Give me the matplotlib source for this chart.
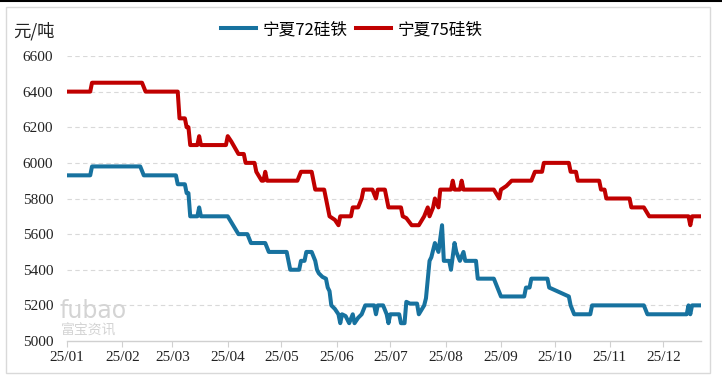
import numpy as np
import pandas as pd
import matplotlib
matplotlib.use("Agg")
import matplotlib.pyplot as plt
import matplotlib.dates as mdates
from matplotlib.patches import Rectangle
from matplotlib.lines import Line2D

plt.rcParams['font.family'] = ['Noto Sans CJK SC', 'DejaVu Sans']

# 宁夏75硅铁 (元/吨), turning points
dates75 = ["01-02", "01-14", "01-15", "02-12", "02-14", "03-04", "03-05", "03-08", "03-09",
           "03-10", "03-11", "03-15", "03-16", "03-17", "03-31", "04-01", "04-03", "04-07",
           "04-10", "04-11", "04-16", "04-17", "04-20", "04-21", "04-22", "04-23", "05-10",
           "05-12", "05-18", "05-19", "05-20", "05-25", "05-28", "05-31", "06-02", "06-03",
           "06-09", "06-10", "06-13", "06-15", "06-16", "06-21", "06-23", "06-24", "06-28",
           "06-29", "06-30", "07-07", "07-08", "07-10", "07-13", "07-17", "07-20", "07-22",
           "07-23", "07-25", "07-26", "07-28", "07-29", "08-04", "08-05", "08-06", "08-09",
           "08-10", "08-11", "08-28", "08-31", "09-01", "09-04", "09-07", "09-18", "09-20",
           "09-24", "09-25", "10-09", "10-10", "10-13", "10-14", "10-26", "10-27", "10-29",
           "10-30", "11-12", "11-13", "11-20", "11-23", "12-15", "12-16", "12-17", "12-22"]
vals75 = [6400, 6400, 6450, 6450, 6400, 6400, 6250, 6250, 6200,
          6200, 6100, 6100, 6150, 6100, 6100, 6150, 6120, 6050,
          6050, 6000, 6000, 5950, 5900, 5900, 5950, 5900, 5900,
          5950, 5950, 5900, 5850, 5850, 5700, 5680, 5650, 5700,
          5700, 5750, 5750, 5800, 5850, 5850, 5800, 5850, 5850,
          5800, 5750, 5750, 5700, 5690, 5650, 5650, 5700, 5750,
          5700, 5750, 5800, 5750, 5850, 5850, 5900, 5850, 5850,
          5900, 5850, 5850, 5800, 5850, 5870, 5900, 5900, 5950,
          5950, 6000, 6000, 5950, 5950, 5900, 5900, 5850, 5850,
          5800, 5800, 5750, 5750, 5700, 5700, 5650, 5700, 5700]

# 宁夏72硅铁 (元/吨)
dates72 = ["01-02", "01-14", "01-15", "02-11", "02-13", "03-03", "03-04", "03-08", "03-09",
           "03-10", "03-11", "03-15", "03-16", "03-17", "04-01", "04-04", "04-07", "04-12",
           "04-14", "04-22", "04-24", "05-04", "05-06", "05-11", "05-12", "05-14", "05-15",
           "05-18", "05-20", "05-21", "05-22", "05-24", "05-26", "05-27", "05-28", "05-29",
           "05-31", "06-02", "06-03", "06-04", "06-06", "06-08", "06-10", "06-11", "06-13",
           "06-15", "06-17", "06-22", "06-23", "06-24", "06-27", "06-29", "06-30", "07-01",
           "07-06", "07-07", "07-09", "07-10", "07-12", "07-16", "07-17", "07-20", "07-21",
           "07-23", "07-24", "07-26", "07-28", "07-30", "07-31", "08-03", "08-04", "08-06",
           "08-07", "08-09", "08-11", "08-12", "08-18", "08-19", "08-28", "08-30", "09-01",
           "09-14", "09-15", "09-17", "09-18", "09-27", "09-28", "10-09", "10-10", "10-12",
           "10-21", "10-22", "11-20", "11-22", "12-14", "12-15", "12-16", "12-17", "12-22"]
vals72 = [5930, 5930, 5980, 5980, 5930, 5930, 5880, 5880, 5830,
          5830, 5700, 5700, 5750, 5700, 5700, 5650, 5600, 5600,
          5550, 5550, 5500, 5500, 5400, 5400, 5450, 5450, 5500,
          5500, 5450, 5400, 5380, 5360, 5350, 5300, 5280, 5200,
          5180, 5150, 5100, 5150, 5140, 5100, 5150, 5100, 5130,
          5150, 5200, 5200, 5150, 5200, 5200, 5150, 5100, 5150,
          5150, 5100, 5100, 5220, 5210, 5210, 5150, 5200, 5240,
          5450, 5470, 5550, 5500, 5650, 5450, 5450, 5400, 5550,
          5500, 5450, 5500, 5450, 5450, 5350, 5350, 5300, 5250,
          5250, 5300, 5300, 5350, 5350, 5300, 5250, 5200, 5150,
          5150, 5200, 5200, 5150, 5150, 5200, 5150, 5200, 5200]

x75 = pd.to_datetime(["2025-" + d for d in dates75])
x72 = pd.to_datetime(["2025-" + d for d in dates72])

fig = plt.figure(figsize=(7.22, 3.80), dpi=100)
ax = fig.add_axes([67/722, 39/380, 634/722, 285/380])

ax.plot(x72, vals72, color='#17729F', lw=2.9, label='宁夏72硅铁', solid_joinstyle='round')
ax.plot(x75, vals75, color='#C00000', lw=2.9, label='宁夏75硅铁', solid_joinstyle='round')

ax.set_ylim(5000, 6600)
ax.set_yticks(np.arange(5000, 6601, 200))
ax.set_xlim(pd.Timestamp("2025-01-01"), pd.Timestamp("2025-12-22"))
ax.xaxis.set_major_locator(mdates.MonthLocator())
ax.xaxis.set_major_formatter(mdates.DateFormatter('%y/%m'))

for v in range(5200, 6601, 200):
    ax.axhline(v, color='#D9D9D9', lw=0.8, ls=(0, (4, 3)), zorder=0)

for s in ['top', 'right', 'left']:
    ax.spines[s].set_visible(False)
ax.spines['bottom'].set_color('#D0D0D0')
ax.spines['bottom'].set_linewidth(1)
ax.tick_params(axis='y', length=0, pad=10)
ax.tick_params(axis='x', length=4, color='#D0D0D0', pad=3)
for lab in ax.get_xticklabels() + ax.get_yticklabels():
    lab.set_fontfamily('Liberation Serif')
    lab.set_fontsize(11)
    lab.set_color('#222222')

fig.text(13/722, 1 - 31/380, '元/吨', fontsize=12.5, va='center', ha='left', color='#222222')

fig.legend(loc='upper center', bbox_to_anchor=(352/722, 1 - 6/380), ncol=2, frameon=False,
           fontsize=12, handlelength=2.1, columnspacing=0.5, handletextpad=0.4)

# fubao watermark
fig.text(60/722, 1 - 311/380, 'fubao', fontsize=17, color='#D4D4D4', va='center', ha='left',
         family='DejaVu Sans')
fig.text(61/722, 1 - 331/380, '富宝资讯', fontsize=10, color='#D4D4D4', va='center', ha='left')

fig.patches.append(Rectangle((6/722, 7/380), 704/722, 366/380, transform=fig.transFigure,
                             fill=False, edgecolor='#D9D9D9', lw=1))
fig.lines.append(Line2D([0, 1], [1 - 0.5/380, 1 - 0.5/380], transform=fig.transFigure,
                        color='black', lw=1.5))

fig.savefig('out.png', dpi=100)
